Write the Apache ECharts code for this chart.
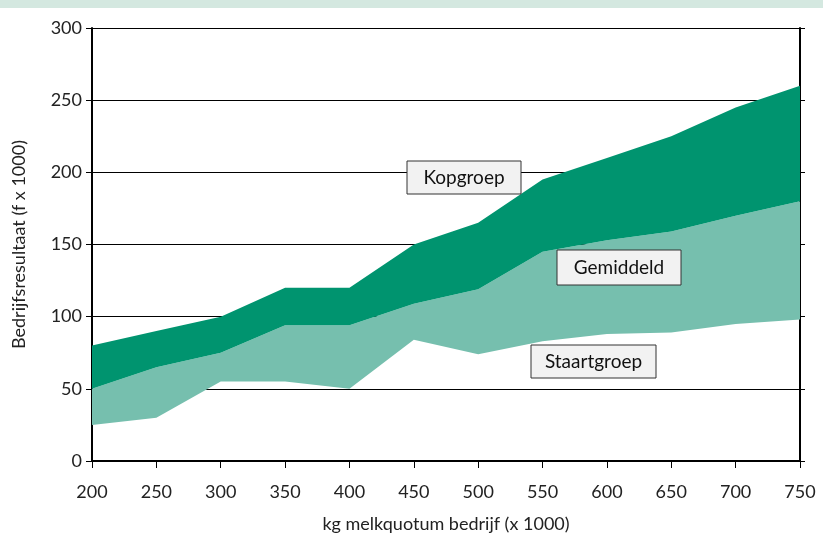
<!DOCTYPE html>
<html>
<head>
<meta charset="utf-8">
<script src="https://cdn.jsdelivr.net/npm/echarts@6/dist/echarts.min.js"></script>
<style>
html,body{margin:0;padding:0;background:#fff;}
#band{position:absolute;left:0;top:0;width:823px;height:8px;background:#d4e8e0;}
#c{position:absolute;left:0;top:0;width:823px;height:538px;}
</style>
</head>
<body>
<div id="c"></div>
<div id="band"></div>
<script>
var categories = ['200','250','300','350','400','450','500','550','600','650','700','750'];
var kopgroep    = [80, 90, 100, 120, 120, 150, 165, 195, 210, 225, 245, 260];
var gemiddeld   = [50, 65, 75, 94, 94, 109, 119, 145, 153, 159, 170, 180];
var staartgroep = [25, 30, 55, 55, 50, 84, 74, 83, 88, 89, 95, 98];
var yTicks = [0, 50, 100, 150, 200, 250, 300];

var midBand = gemiddeld.map(function(v,i){return v - staartgroep[i];});
var topBand = kopgroep.map(function(v,i){return v - gemiddeld[i];});

var FONT = 'Lato';
var chart = echarts.init(document.getElementById('c'), null, {renderer:'canvas'});
chart.setOption({
  animation:false,
  backgroundColor:'#fff',
  grid:{left:92, right:23, top:28, bottom:77},
  xAxis:[{
    type:'category', data:categories, boundaryGap:false,
    name:'kg melkquotum bedrijf (x 1000)', nameLocation:'middle', nameGap:54,
    nameTextStyle:{fontFamily:FONT, fontSize:18, color:'#222'},
    axisLine:{show:true, lineStyle:{color:'#000', width:2}},
    axisTick:{show:true, inside:false, length:7, alignWithLabel:true, lineStyle:{color:'#000', width:1}},
    axisLabel:{fontFamily:FONT, fontSize:18, color:'#222', margin:22, interval:0},
    splitLine:{show:false}
  },{
    type:'category', data:categories, boundaryGap:false, position:'top',
    axisLine:{show:true, lineStyle:{color:'#000', width:2}},
    axisTick:{show:false}, axisLabel:{show:false}, splitLine:{show:false}
  }],
  yAxis:[{
    type:'value', min:0, max:300, interval:50,
    name:'Bedrijfsresultaat (f x 1000)', nameLocation:'middle', nameGap:64,
    nameTextStyle:{fontFamily:FONT, fontSize:18, color:'#222'},
    axisLine:{show:true, lineStyle:{color:'#000', width:2}},
    axisTick:{show:true, inside:false, length:6, lineStyle:{color:'#000', width:1}},
    axisLabel:{fontFamily:FONT, fontSize:18, color:'#222', margin:10,
      formatter:function(v){return yTicks.indexOf(v)>=0 ? String(v) : '';}},
    splitLine:{show:true, lineStyle:{color:'#000', width:1}}
  },{
    type:'value', min:0, max:300, interval:50, position:'right',
    axisLine:{show:true, lineStyle:{color:'#000', width:2}},
    axisTick:{show:true, inside:false, length:5, lineStyle:{color:'#000', width:1}},
    axisLabel:{show:false}, splitLine:{show:false}
  }],
  series:[
    {type:'line', stack:'a', data:staartgroep, symbol:'none', silent:true,
     lineStyle:{width:0, opacity:0}},
    {type:'line', stack:'a', data:midBand, symbol:'none', silent:true,
     lineStyle:{width:0, opacity:0}, areaStyle:{color:'#76bfae', opacity:1}},
    {type:'line', stack:'a', data:topBand, symbol:'none', silent:true,
     lineStyle:{width:0, opacity:0}, areaStyle:{color:'#00946f', opacity:1}}
  ],
  graphic:[
    {type:'rect', shape:{x:407, y:161, width:114, height:33}, style:{fill:'#f2f2f2', stroke:'#333', lineWidth:1}, z:100},
    {type:'text', x:464, y:177.5, style:{text:'Kopgroep', fontFamily:FONT, fontSize:19, fill:'#111', align:'center', verticalAlign:'middle'}, z:101},
    {type:'rect', shape:{x:557, y:250, width:124, height:35}, style:{fill:'#f2f2f2', stroke:'#333', lineWidth:1}, z:100},
    {type:'text', x:619, y:267.5, style:{text:'Gemiddeld', fontFamily:FONT, fontSize:19, fill:'#111', align:'center', verticalAlign:'middle'}, z:101},
    {type:'rect', shape:{x:531, y:345, width:125, height:33}, style:{fill:'#f2f2f2', stroke:'#333', lineWidth:1}, z:100},
    {type:'text', x:593.5, y:361.5, style:{text:'Staartgroep', fontFamily:FONT, fontSize:19, fill:'#111', align:'center', verticalAlign:'middle'}, z:101}
  ]
});
</script>
</body>
</html>
